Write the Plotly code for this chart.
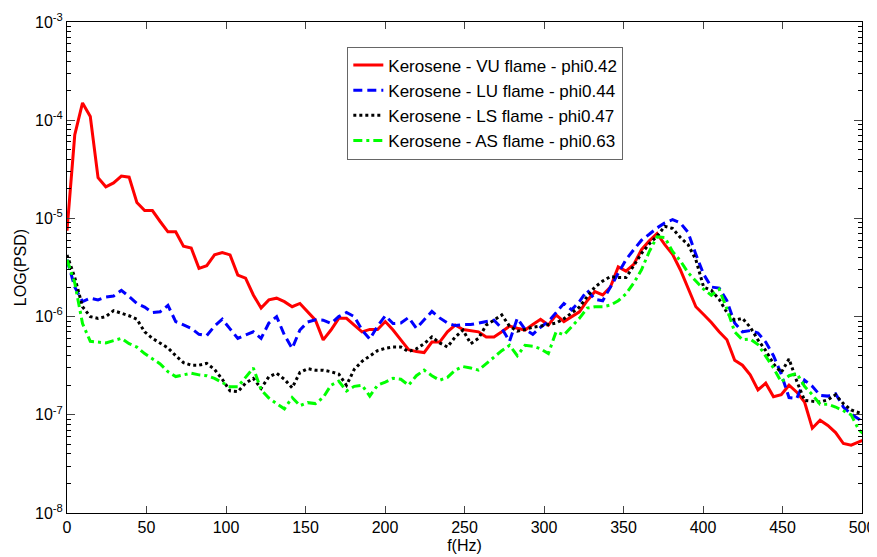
import plotly.graph_objects as go

# Frequency bins (Hz): FFT resolution ~4.88 Hz
freq_step = 500 / 102.4
freq = [k * freq_step for k in range(104)]

series_names = [
    "Kerosene - VU flame - phi0.42",
    "Kerosene - LU flame - phi0.44",
    "Kerosene - LS flame - phi0.47",
    "Kerosene - AS flame - phi0.63",
]

psd_vu = [
    7.5e-6, 7.1e-5, 1.5e-4, 1.09e-4, 2.6e-5, 2.1e-5, 2.3e-5, 2.7e-5, 2.63e-5, 1.45e-5,
    1.2e-5, 1.2e-5, 9.3e-6, 7.3e-6, 7.3e-6, 5.2e-6, 5.0e-6, 3.1e-6, 3.3e-6, 4.25e-6,
    4.5e-6, 4.25e-6, 2.65e-6, 2.46e-6, 1.66e-6, 1.22e-6, 1.48e-6, 1.54e-6, 1.42e-6, 1.26e-6,
    1.36e-6, 1.12e-6, 9.2e-7, 5.8e-7, 7.3e-7, 9.6e-7, 9.6e-7, 8.2e-7, 7.0e-7, 7.4e-7,
    7.4e-7, 8.9e-7, 7.3e-7, 5.8e-7, 4.6e-7, 4.4e-7, 4.3e-7, 5.5e-7, 5.5e-7, 7.0e-7,
    8.2e-7, 7.4e-7, 7.2e-7, 7.0e-7, 6.2e-7, 6.2e-7, 7.0e-7, 8.0e-7, 7.6e-7, 7.3e-7,
    8.3e-7, 9.4e-7, 8.2e-7, 1.04e-6, 8.9e-7, 1.0e-6, 1.12e-6, 1.45e-6, 1.8e-6, 1.66e-6,
    2.0e-6, 3.2e-6, 2.9e-6, 3.4e-6, 4.8e-6, 5.9e-6, 7.0e-6, 5.4e-6, 4.3e-6, 3.0e-6,
    1.9e-6, 1.26e-6, 1.05e-6, 8.7e-7, 7.0e-7, 5.8e-7, 3.6e-7, 3.2e-7, 2.55e-7, 1.79e-7,
    2.1e-7, 1.53e-7, 1.6e-7, 2.0e-7, 1.7e-7, 1.35e-7, 7.3e-8, 8.8e-8, 7.8e-8, 6.6e-8,
    5.1e-8, 4.9e-8, 5.3e-8, 5.7e-8,
]

psd_lu = [
    3.8e-6, 2.0e-6, 1.42e-6, 1.54e-6, 1.48e-6, 1.58e-6, 1.62e-6, 1.85e-6, 1.6e-6, 1.36e-6,
    1.25e-6, 1.1e-6, 1.12e-6, 1.3e-6, 8.9e-7, 8.3e-7, 7.6e-7, 6.6e-7, 6.4e-7, 8.0e-7,
    9.4e-7, 7.5e-7, 6.0e-7, 6.5e-7, 7.0e-7, 6.0e-7, 8.6e-7, 1.0e-6, 6.5e-7, 4.75e-7,
    7.3e-7, 8.8e-7, 9.3e-7, 9.2e-7, 8.5e-7, 1.0e-6, 1.1e-6, 1.0e-6, 7.3e-7, 5.9e-7,
    8.0e-7, 1.02e-6, 8.5e-7, 8.6e-7, 9.8e-7, 7.6e-7, 9.3e-7, 1.13e-6, 9.7e-7, 8.6e-7,
    8.1e-7, 8.3e-7, 8.3e-7, 8.6e-7, 9.0e-7, 9.2e-7, 7.6e-7, 5.6e-7, 9.6e-7, 7.4e-7,
    6.6e-7, 7.8e-7, 8.9e-7, 1.1e-6, 1.36e-6, 1.17e-6, 1.42e-6, 1.85e-6, 1.5e-6, 1.45e-6,
    2.0e-6, 2.8e-6, 3.8e-6, 4.8e-6, 6.0e-6, 6.9e-6, 8.0e-6, 9.0e-6, 9.7e-6, 9.0e-6,
    7.2e-6, 4.3e-6, 2.7e-6, 2.0e-6, 1.95e-6, 1.45e-6, 8.6e-7, 7.0e-7, 7.2e-7, 6.8e-7,
    5.5e-7, 4.0e-7, 2.6e-7, 1.5e-7, 1.47e-7, 2.25e-7, 1.95e-7, 1.58e-7, 1.55e-7, 1.64e-7,
    1.2e-7, 1.02e-7, 9.0e-8, 8.0e-8,
]

psd_ls = [
    4.25e-6, 2.5e-6, 1.26e-6, 1.0e-6, 9.6e-7, 1.0e-6, 1.15e-6, 1.08e-6, 1.02e-6, 9.4e-7,
    7.0e-7, 6.0e-7, 5.4e-7, 4.8e-7, 4.0e-7, 3.4e-7, 3.2e-7, 3.2e-7, 3.34e-7, 2.9e-7,
    2.3e-7, 1.75e-7, 1.72e-7, 2.1e-7, 2.35e-7, 1.86e-7, 2.44e-7, 2.65e-7, 2.3e-7, 1.88e-7,
    2.7e-7, 2.95e-7, 2.85e-7, 2.85e-7, 2.75e-7, 2.6e-7, 2.0e-7, 2.9e-7, 3.5e-7, 4.0e-7,
    4.5e-7, 4.75e-7, 4.9e-7, 4.9e-7, 4.4e-7, 4.7e-7, 5.3e-7, 6.2e-7, 5.4e-7, 4.9e-7,
    6.2e-7, 7.3e-7, 5.3e-7, 6.0e-7, 8.2e-7, 9.2e-7, 1.04e-6, 8.0e-7, 7.1e-7, 7.4e-7,
    7.8e-7, 8.0e-7, 8.3e-7, 8.6e-7, 9.5e-7, 1.08e-6, 1.25e-6, 1.6e-6, 2.0e-6, 2.3e-6,
    2.55e-6, 2.5e-6, 2.5e-6, 3.3e-6, 4.4e-6, 5.5e-6, 6.6e-6, 8.3e-6, 7.9e-6, 6.4e-6,
    5.4e-6, 3.8e-6, 2.0e-6, 1.85e-6, 1.5e-6, 1.1e-6, 9.2e-7, 9.6e-7, 7.8e-7, 5.8e-7,
    4.5e-7, 3.3e-7, 2.7e-7, 3.7e-7, 2.2e-7, 1.4e-7, 1.38e-7, 1.35e-7, 1.42e-7, 1.6e-7,
    1.3e-7, 1.12e-7, 1.05e-7, 9.8e-8,
]

psd_as = [
    3.8e-6, 2.2e-6, 8.5e-7, 5.6e-7, 5.5e-7, 5.4e-7, 5.7e-7, 6.0e-7, 5.3e-7, 4.9e-7,
    4.2e-7, 3.7e-7, 3.3e-7, 2.75e-7, 2.45e-7, 2.55e-7, 2.65e-7, 2.55e-7, 2.5e-7, 2.35e-7,
    2.15e-7, 1.93e-7, 1.93e-7, 2.4e-7, 3.0e-7, 1.8e-7, 1.48e-7, 1.3e-7, 1.15e-7, 1.5e-7,
    1.24e-7, 1.33e-7, 1.3e-7, 1.5e-7, 2.0e-7, 2.2e-7, 1.75e-7, 1.95e-7, 2.0e-7, 1.55e-7,
    2.0e-7, 2.15e-7, 2.35e-7, 2.3e-7, 2.0e-7, 2.5e-7, 2.85e-7, 2.5e-7, 2.25e-7, 2.4e-7,
    2.85e-7, 3.1e-7, 3.0e-7, 2.85e-7, 3.3e-7, 3.9e-7, 4.5e-7, 5.1e-7, 4.0e-7, 5.1e-7,
    5.0e-7, 4.7e-7, 4.2e-7, 7.0e-7, 6.5e-7, 7.9e-7, 9.6e-7, 1.22e-6, 1.26e-6, 1.26e-6,
    1.31e-6, 1.45e-6, 1.7e-6, 2.2e-6, 3.0e-6, 4.6e-6, 6.5e-6, 6.4e-6, 4.6e-6, 3.7e-6,
    2.8e-6, 2.3e-6, 1.9e-6, 1.65e-6, 1.9e-6, 1.2e-6, 7.0e-7, 5.8e-7, 5.9e-7, 5.2e-7,
    4.0e-7, 3.0e-7, 2.16e-7, 2.5e-7, 2.64e-7, 1.95e-7, 1.6e-7, 1.28e-7, 1.28e-7, 1.2e-7,
    1.1e-7, 1.0e-7, 7.0e-8, 6.0e-8,
]

x_ticks = [0, 50, 100, 150, 200, 250, 300, 350, 400, 450, 500]
y_ticks = [1e-8, 1e-7, 1e-6, 1e-5, 1e-4, 1e-3]
y_ticklabels = ["10<sup>-8</sup>", "10<sup>-7</sup>", "10<sup>-6</sup>",
                "10<sup>-5</sup>", "10<sup>-4</sup>", "10<sup>-3</sup>"]
y_minor = [m * 10.0 ** e for e in range(-8, -3) for m in range(2, 10)]

styles = [
    dict(color="#FF0000", width=3, dash="solid"),
    dict(color="#0000FF", width=3, dash="9px,5px"),
    dict(color="#000000", width=3, dash="3px,3px"),
    dict(color="#00FF00", width=3, dash="9px,4px,3px,4px"),
]

fig = go.Figure()
for name, vals, st in zip(series_names, [psd_vu, psd_lu, psd_ls, psd_as], styles):
    fig.add_trace(go.Scatter(x=freq, y=vals, mode="lines", name=name, line=st))

font = "Liberation Sans, Arial, sans-serif"
# page body has an 8px margin, so the figure is sized to fit the window
fig.update_layout(
    width=869, height=549,
    paper_bgcolor="white", plot_bgcolor="white",
    margin=dict(l=59, r=15, t=14, b=44),
    font=dict(family=font, size=16, color="black"),
    showlegend=True,
    legend=dict(
        x=0.3526, y=0.95, xanchor="left", yanchor="top",
        bgcolor="white", bordercolor="#666666", borderwidth=1,
        font=dict(size=17, family=font),
        tracegroupgap=0, itemwidth=30,
    ),
)
fig.update_xaxes(
    range=[0, 500], tickvals=x_ticks, ticks="inside", ticklen=7,
    showline=True, linecolor="black", linewidth=1, mirror="ticks",
    showgrid=False, zeroline=False, tickfont=dict(size=16), automargin=False,
    title=dict(text="f(Hz)", font=dict(size=16), standoff=4),
)
fig.update_yaxes(
    type="log", range=[-8, -3], tickvals=y_ticks, ticktext=y_ticklabels,
    ticks="inside", ticklen=8,
    minor=dict(tickmode="array", tickvals=y_minor, ticks="inside", ticklen=4,
               tickcolor="black", showgrid=False),
    showline=True, linecolor="black", linewidth=1, mirror="ticks",
    showgrid=False, zeroline=False, tickfont=dict(size=16), automargin=False,
    title=dict(text="LOG(PSD)", font=dict(size=16), standoff=4),
)

fig.write_html("out.html")
